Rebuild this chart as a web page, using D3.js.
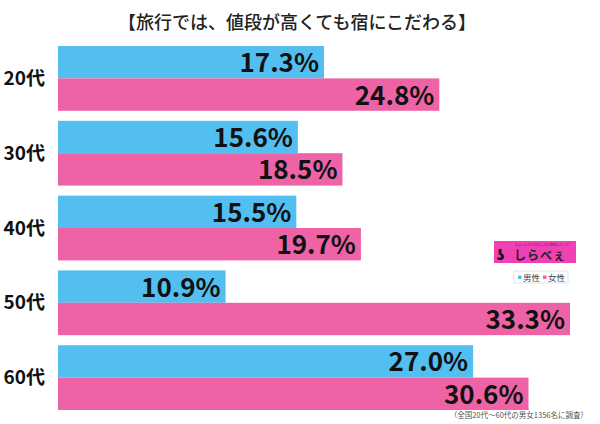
<!DOCTYPE html>
<html><head><meta charset="utf-8">
<script src="https://cdn.jsdelivr.net/npm/d3@7"></script>
<style>body{margin:0;background:#fff}svg{display:block}</style>
</head><body>
<script>
const categories = ["20代","30代","40代","50代","60代"];
const male = [17.3,15.6,15.5,10.9,27.0];
const female = [24.8,18.5,19.7,33.3,30.6];
const seriesNames = ["男性","女性"];
const title = "【旅行では、値段が高くても宿にこだわる】";
const note = "（全国20代～60代の男女1356名に調査）";

const W=600,H=424;
const blue="#52bff0", pink="#ee63a5";
const svg=d3.select("body").append("svg").attr("width",W).attr("height",H);
const font="'Noto Sans CJK JP','Noto Sans',sans-serif";

const x=d3.scaleLinear().domain([0,33.3]).range([58,570]);
const y=d3.scaleBand().domain(categories).range([41,415]).paddingInner(0.134).paddingOuter(0.067);
const sub=d3.scaleBand().domain(seriesNames).range([0,y.bandwidth()]);

svg.append("text").attr("x",297).attr("y",29).attr("text-anchor","middle")
  .attr("font-family",font).attr("font-size",18).attr("font-weight",500).attr("fill","#222").text(title);

const data=[];
categories.forEach((c,i)=>{
  data.push({c,s:seriesNames[0],v:male[i],col:blue});
  data.push({c,s:seriesNames[1],v:female[i],col:pink});
});

svg.selectAll("rect.bar").data(data).join("rect").attr("class","bar")
  .attr("x",x(0)).attr("y",d=>y(d.c)+sub(d.s)).attr("width",d=>x(d.v)-x(0))
  .attr("height",sub.bandwidth()).attr("fill",d=>d.col);

svg.selectAll("text.val").data(data).join("text").attr("class","val")
  .attr("x",d=>x(d.v)-5).attr("y",d=>y(d.c)+sub(d.s)+sub.bandwidth()/2+10)
  .attr("text-anchor","end").attr("font-family",font).attr("font-weight",700)
  .attr("font-size",26).attr("fill","#111").text(d=>d.v.toFixed(1)+"%");

const yAxis=svg.append("g").attr("transform","translate(45,0)")
  .call(d3.axisLeft(y).tickSize(0).tickPadding(0));
yAxis.select(".domain").remove();
yAxis.selectAll("text").attr("font-family",font).attr("font-weight",700)
  .attr("font-size",19).attr("fill","#111").attr("dy","0.35em");

// logo
const lg=svg.append("g").attr("transform","translate(494,241)");
lg.append("rect").attr("width",82).attr("height",22).attr("fill","#f040b4");
lg.append("text").attr("x",48).attr("y",5).attr("text-anchor","middle").attr("font-family",font)
  .attr("font-size",3.2).attr("fill","#7a1a5a").text("ちょっとだけおもしろい情報メディア");
lg.append("text").attr("x",3).attr("y",19).attr("font-family",font).attr("font-weight",900)
  .attr("font-size",14).attr("fill","#111").text("ʖ");
lg.append("text").attr("x",20).attr("y",19).attr("font-family",font).attr("font-weight",700)
  .attr("font-size",12).attr("letter-spacing",1).attr("fill","#222").text("しらべぇ");

// legend
const leg=svg.append("g").attr("transform","translate(514,271)");
leg.append("rect").attr("width",54).attr("height",12).attr("fill","#fff").attr("stroke","#ddd").attr("stroke-width",0.8);
[[blue,"男性",4],[pink,"女性",29]].forEach(([c,t,o])=>{
  leg.append("rect").attr("x",o).attr("y",4.5).attr("width",3.5).attr("height",3.5).attr("fill",c);
  leg.append("text").attr("x",o+5).attr("y",9.5).attr("font-family",font).attr("font-size",8.5).attr("fill","#444").text(t);
});

svg.append("text").attr("x",588).attr("y",418).attr("text-anchor","end").attr("font-family",font)
  .attr("font-size",7.5).attr("fill","#555").text(note);
</script>
</body></html>
